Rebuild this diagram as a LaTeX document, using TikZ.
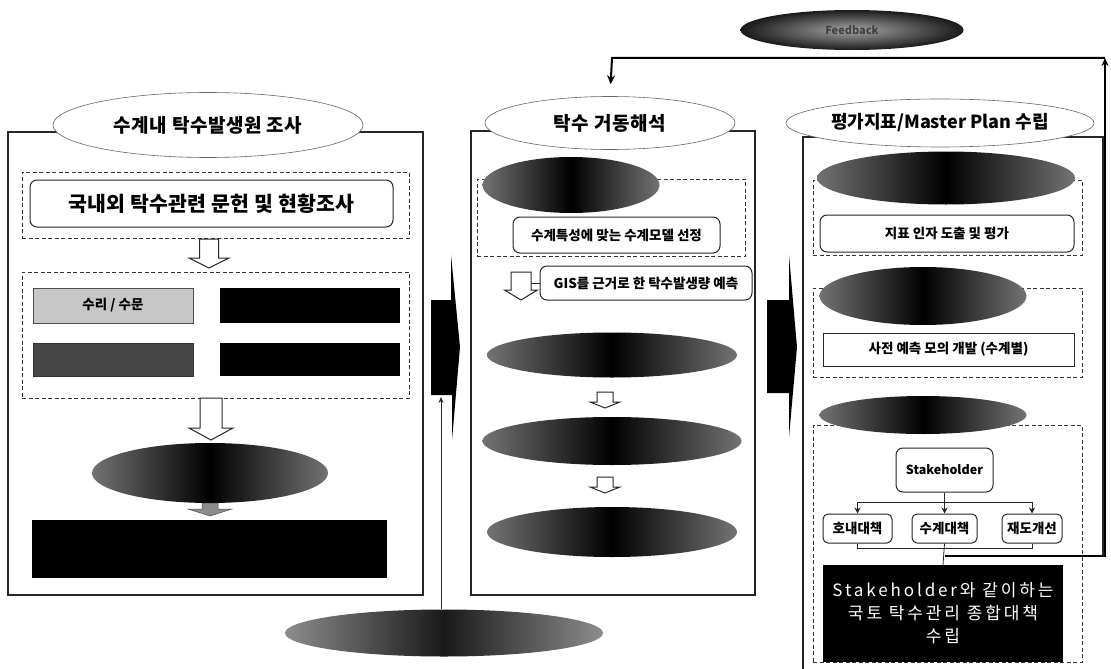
\documentclass[tikz,border=0pt]{standalone}
\usepackage{fontspec}
\newfontfamily\kr{Noto Sans CJK KR}
\usetikzlibrary{arrows.meta,shapes.geometric}
\tikzset{
  frame/.style={draw=black!85, line width=1.1pt},
  hdr/.style={ellipse, draw=black!60, line width=0.6pt, fill=white, inner sep=0pt,
    font=\kr\bfseries\fontsize{19}{19}\selectfont\addfontfeature{LetterSpace=3}},
  dbox/.style={rectangle, draw=black!80, dash pattern=on 4pt off 2.5pt, line width=0.8pt, inner sep=0pt},
  rbox/.style={rectangle, draw=black!85, line width=1pt, rounded corners=7pt, fill=white, inner sep=0pt},
  sbox/.style={rectangle, draw=black!85, line width=1pt, fill=white, inner sep=0pt},
  blk/.style={ellipse, draw=none, left color=black!55, right color=black!55, middle color=black, inner sep=0pt},
  blkbox/.style={rectangle, fill=black, draw=none, inner sep=0pt},
  bar/.style={draw=black!85, line width=1pt, fill=white, line join=miter},
  conn/.style={draw=black!85, line width=0.8pt},
  fbline/.style={draw=black, line width=2pt},
  chev/.style={fill=black, draw=none},
  txt/.style={font=\kr\bfseries\fontsize{13.5}{13.5}\selectfont}
}
\newcommand\barrowv[7]{% style, cx, ytop, yhead, ytip, shaft half, head half
  \draw[#1] (#2-#6,#3) -- (#2+#6,#3) -- (#2+#6,#4) -- (#2+#7,#4) -- (#2,#5) -- (#2-#7,#4) -- (#2-#6,#4) -- cycle;}
\begin{document}
\begin{tikzpicture}[x=1pt,y=-1pt]
\useasboundingbox (0,0) rectangle (1111,669);
\fill[white] (0,0) rectangle (1111,669);

% ================= LEFT PANEL =================
\node[frame, rectangle, minimum width=415pt, minimum height=463pt, inner sep=0pt] (frameL) at (215.5,363.5) {};
\node[hdr, minimum width=310pt, minimum height=65pt] (hdrL) at (208,125) {수계내 탁수발생원 조사};
\node[dbox, minimum width=387pt, minimum height=66pt] (dashL1) at (215.5,205) {};
\node[rbox, minimum width=363pt, minimum height=47pt, font=\kr\bfseries\fontsize{20.5}{20.5}\selectfont\addfontfeature{LetterSpace=1}] (boxL1) at (211.5,203.5) {국내외 탁수관련 문헌 및 현황조사};
\barrowv{bar}{209}{239}{258}{268}{9.5}{20}
\node[dbox, minimum width=387pt, minimum height=126pt] (dashL2) at (215.5,335) {};
\node[rectangle, fill=black!22, draw=black!70, line width=0.6pt, minimum width=160pt, minimum height=35pt, inner sep=0pt, txt] (bA) at (113,305.5) {수리 / 수문};
\node[blkbox, minimum width=180pt, minimum height=35pt] (bB) at (310,305.5) {};
\node[rectangle, fill=black!72, draw=black!80, line width=0.6pt, minimum width=160pt, minimum height=33pt, inner sep=0pt] (bC) at (113,359.5) {};
\node[blkbox, minimum width=180pt, minimum height=33pt] (bD) at (310,359.5) {};
\barrowv{bar}{211}{398}{428}{440}{11}{22}
\node[blk, minimum width=236pt, minimum height=60pt] (elL) at (210,473) {};
\barrowv{fill=black!45, draw=black!70, line width=0.5pt}{210}{503}{509}{516}{8}{22}
\node[blkbox, minimum width=355pt, minimum height=58pt] (bE) at (209.5,549) {};

% ================= MIDDLE PANEL =================
\node[frame, rectangle, minimum width=284pt, minimum height=464pt, inner sep=0pt] (frameM) at (613,363) {};
\node[hdr, minimum width=250pt, minimum height=53pt] (hdrM) at (610,123) {탁수 거동해석};
\node[dbox, minimum width=268pt, minimum height=77pt] (dashM1) at (611,217.5) {};
\node[blk, minimum width=177pt, minimum height=56pt] (elM1) at (571,185) {};
\node[rbox, minimum width=207pt, minimum height=36pt, txt] (boxM1) at (616.5,235) {수계특성에 맞는 수계모델 선정};
\barrowv{bar}{521}{272}{290}{300}{10}{16.5}
\coordinate (ma) at (531,283);
\node[rbox, minimum width=212pt, minimum height=34pt, txt] (gis) at (646,283) {GIS를 근거로 한 탁수발생량 예측};
\draw[conn] (ma) -- (gis.west);
\node[blk, minimum width=250pt, minimum height=45pt] (elM2) at (612,355) {};
\barrowv{bar}{605}{392}{402}{408}{8}{15}
\node[blk, minimum width=259pt, minimum height=48pt] (elM3) at (612,441) {};
\barrowv{bar}{605}{477}{487}{493}{8}{15}
\node[blk, minimum width=250pt, minimum height=50pt] (elM4) at (612,532) {};

% ================= CHEVRONS =================
\fill[chev] (431,300) -- (451,300) -- (451,255) -- (460,347) -- (452,440) -- (452,395) -- (431,395) -- cycle;
\fill[chev] (767,300) -- (789,300) -- (789,255) -- (797,347) -- (789,437) -- (789,393) -- (767,393) -- cycle;

% bottom ellipse
\node[ellipse, inner sep=0pt, left color=black!45, right color=black!45, middle color=black!90, minimum width=318pt, minimum height=47pt] (elB) at (444,633) {};
\coordinate (cL) at (441,397);
\draw[conn, -{Stealth[length=6pt,width=5pt]}] (cL |- elB.north) -- (cL);

% ================= RIGHT PANEL =================
\coordinate (fbA) at (1105,556);
\coordinate (fbB) at (1105,58);
\coordinate (fbC) at (612,58);
\draw[frame] (1103,556) -- (1103,137) -- (803,137) -- (803,672);
\node[hdr, minimum width=280pt, minimum height=48pt, font=\kr\bfseries\fontsize{18}{18}\selectfont] (hdrR) at (940,123) {평가지표/Master Plan 수립};
\node[dbox, minimum width=269pt, minimum height=75pt] (dashR1) at (947.5,217.5) {};
\node[blk, minimum width=258pt, minimum height=53pt] (elR1) at (946,178) {};
\node[rbox, minimum width=254pt, minimum height=37pt, txt] (boxR1) at (947,233.5) {지표 인자 도출 및 평가};
\node[dbox, minimum width=269pt, minimum height=89pt] (dashR2) at (947.5,332.5) {};
\node[blk, minimum width=207pt, minimum height=58pt] (elR2) at (923,296) {};
\node[sbox, minimum width=251pt, minimum height=33pt, font=\kr\bfseries\fontsize{13.5}{13.5}\selectfont] (boxR2) at (948.5,349.5) {사전 예측 모의 개발 (수계별)};
\node[dbox, minimum width=269pt, minimum height=237pt] (dashR3) at (947.5,543.5) {};
\node[blk, minimum width=207pt, minimum height=38pt] (elR3) at (923,415) {};
\node[rbox, minimum width=97pt, minimum height=44pt, font=\kr\bfseries\fontsize{12.5}{12.5}\selectfont] (sh) at (944.5,470) {Stakeholder};
\node[rbox, rounded corners=5pt, minimum width=69pt, minimum height=29pt, txt] (b1) at (857.5,528.5) {호내대책};
\node[rbox, rounded corners=5pt, minimum width=65pt, minimum height=29pt, txt] (b2) at (944.5,528.5) {수계대책};
\node[rbox, rounded corners=5pt, minimum width=60pt, minimum height=29pt, txt] (b3) at (1032,528.5) {재도개선};
\node[blkbox, minimum width=240pt, minimum height=97pt, text=white, align=center,
  font=\kr\fontsize{17}{23}\selectfont\addfontfeature{LetterSpace=17}] (big) at (943,613.5)
  {Stakeholder와 같이하는\\국토 탁수관리 종합대책\\수립};
\coordinate (br) at (944.5,502);
\draw[conn, -{Stealth[length=6pt,width=6pt]}] (sh.south) -- (b2.north);
\draw[conn] (b1.north |- br) -- (b3.north |- br);
\draw[conn, -{Stealth[length=6pt,width=6pt]}] (b1.north |- br) -- (b1.north);
\draw[conn, -{Stealth[length=6pt,width=6pt]}] (b3.north |- br) -- (b3.north);
\draw[conn] (b1.south) -- ++(0,5) -| (b3.south);
\draw[conn] (b2.south) -- (big.north);
\coordinate (fb0) at (944.5,556);

% ================= FEEDBACK =================
\node[ellipse, inner sep=0pt, inner color=black!35, outer color=black!90, minimum width=223pt, minimum height=40pt,
  font=\kr\bfseries\fontsize{11}{11}\selectfont, text=black!75] (fb) at (852,30) {Feedback};
\draw[fbline, -{Stealth[length=8pt,width=7pt]}] (fb0) -- (fbA) -- (fbB);
\draw[fbline, -{Stealth[length=9pt,width=8pt]}, shorten >=12pt] (fbB) -- (fbC) -- (hdrM.north);
\end{tikzpicture}
\end{document}
